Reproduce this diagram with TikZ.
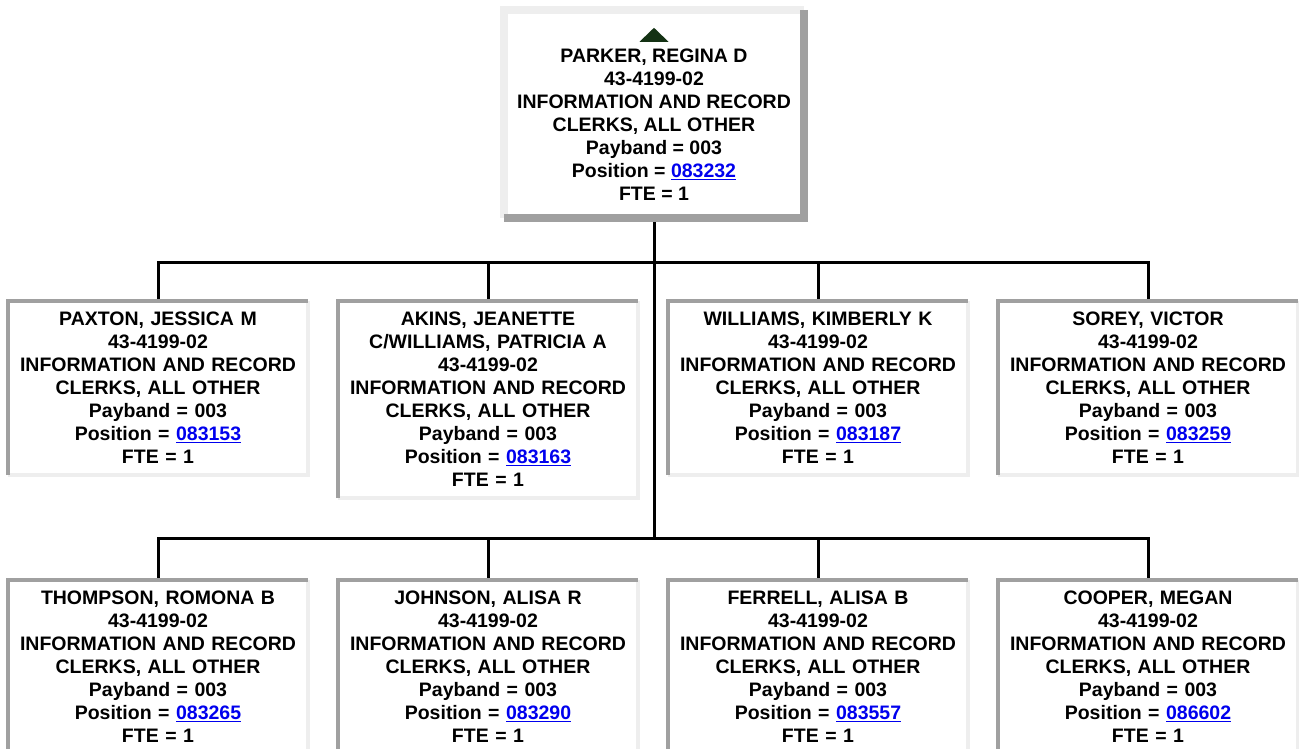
\documentclass[tikz,border=0pt]{standalone}
\usepackage{fontspec}
\setmainfont{Liberation Sans}
\usepackage{xcolor}
\usepackage{tikz}
\definecolor{framedark}{RGB}{160,160,160}
\definecolor{framelight}{RGB}{238,238,238}
\definecolor{linkblue}{RGB}{0,0,238}
\definecolor{upgreen}{RGB}{20,50,20}
\newcommand{\poslink}[1]{{\color{linkblue}\underline{#1}}}

\begin{document}
\begin{tikzpicture}[x=1pt, y=-1pt, font=\bfseries\fontsize{19.5}{23}\selectfont,
  card/.style={fill=white, anchor=north, minimum width=300pt, minimum height=172pt,
    text width=296pt, align=center, inner xsep=2pt, inner ysep=11pt},
  conn/.style={line width=3pt},
  rimdark/.style={framedark, line width=4pt},
  rimlight/.style={framelight, line width=4pt}]
  \useasboundingbox (0,0) rectangle (1299,749);
  \node[fill=white, minimum width=300pt, minimum height=208pt] (top) at (654,114) {};
  \node[align=center] (toptxt) at (654,125) {PARKER, REGINA D\\43-4199-02\\INFORMATION AND RECORD\\CLERKS, ALL OTHER\\Payband = 003\\Position = \poslink{083232}\\FTE = 1};
  \fill[upgreen] ([yshift=-18pt]top.north) -- ++(-14.5,14) -- ++(29,0) -- cycle;
  \foreach \i/\who/\num in {0/{PAXTON, JESSICA M}/083153, 1/{AKINS, JEANETTE\\C/WILLIAMS, PATRICIA A}/083163,
      2/{WILLIAMS, KIMBERLY K}/083187, 3/{SOREY, VICTOR}/083259} {
    \pgfmathsetmacro{\x}{158 + \i*330}
    \node[card] (r\i) at (\x, 301) {\who\\43-4199-02\\INFORMATION AND RECORD\\CLERKS, ALL OTHER\\Payband = 003\\Position = \poslink{\num}\\FTE = 1};
  }
  \foreach \i/\who/\num in {0/{THOMPSON, ROMONA B}/083265, 1/{JOHNSON, ALISA R}/083290,
      2/{FERRELL, ALISA B}/083557, 3/{COOPER, MEGAN}/086602} {
    \pgfmathsetmacro{\x}{158 + \i*330}
    \node[card] (s\i) at (\x, 580) {\who\\43-4199-02\\INFORMATION AND RECORD\\CLERKS, ALL OTHER\\Payband = 003\\Position = \poslink{\num}\\FTE = 1};
  }
  \coordinate (bar1) at (654,262);
  \coordinate (bar2) at (654,538);
  \draw[conn] (top.south) -- (bar2);
  \draw[conn] (r0.north) |- (bar1) -| (r3.north);
  \draw[conn] (s0.north) |- (bar2) -| (s3.north);
  \foreach \n in {r1, r2} \draw[conn] (\n.north) -- (\n.north |- bar1);
  \foreach \n in {s1, s2} \draw[conn] (\n.north) -- (\n.north |- bar2);
  \foreach \n in {r0, r1, r2, r3, s0, s1, s2, s3} {
    \draw[rimlight] (\n.north east) -- (\n.south east) -- (\n.south west);
    \draw[rimdark] (\n.south west) -- (\n.north west) -- (\n.north east);
  }
  \draw[rimlight, line width=8pt] (top.south west) -- (top.north west) -- (top.north east);
  \draw[rimdark, line width=8pt] (top.north east) -- (top.south east) -- (top.south west);
\end{tikzpicture}
\end{document}
